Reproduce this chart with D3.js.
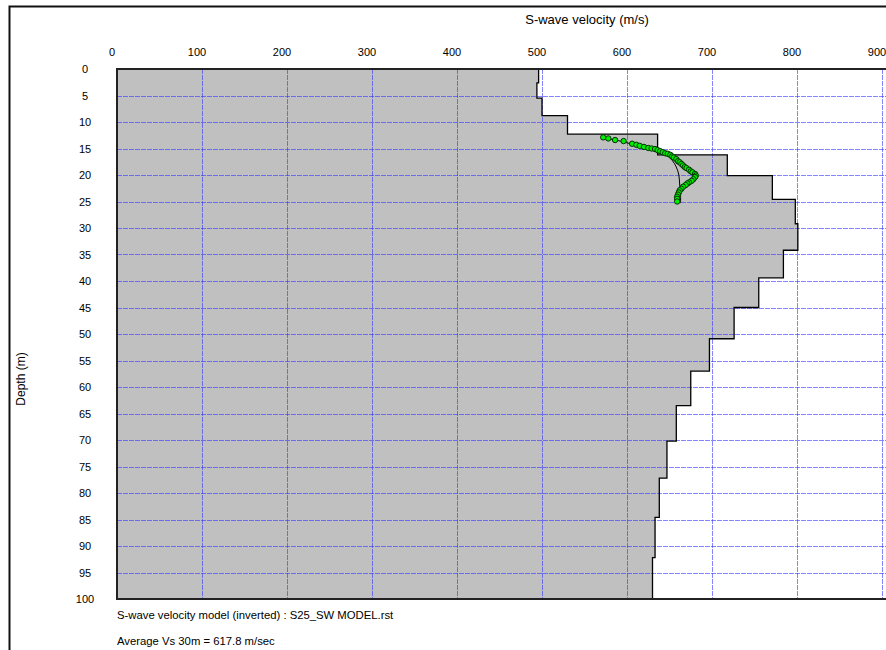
<!DOCTYPE html>
<html>
<head>
<meta charset="utf-8">
<script src="https://cdn.jsdelivr.net/npm/d3@7/dist/d3.min.js"></script>
<style>
  html, body { margin: 0; padding: 0; background: #fff; }
  svg { display: block; }
  text { font-family: "Liberation Sans", Arial, sans-serif; fill: #000; }
</style>
</head>
<body>
<svg id="chart" width="886" height="650"></svg>
<script>
// Layer boundaries (m) and inverted S-wave velocity of each layer (m/s)
const layerDepths = [0, 2.6, 5.5, 8.8, 12.3, 16.2, 20.1, 24.6, 29.2, 34.2, 39.4, 45.0, 50.9, 57.0, 63.5, 70.2, 77.2, 84.6, 92.2, 100];
const layerVs = [496, 494, 500, 530, 636, 718, 771, 798, 801, 784, 755, 726, 697, 675, 658, 647, 638, 633, 630];

// Measured dispersion points (phase velocity vs pseudo-depth)
const obsVelocity = [572, 578, 586, 596, 606, 611, 615, 620, 625, 629, 633, 636, 639, 642, 645, 648, 651, 653, 655, 658, 660, 662, 664, 666, 668, 670, 673, 675, 677, 680, 681, 680, 678, 676, 673, 671, 669, 666, 664, 662, 661, 660, 659, 659, 659];
const obsDepth = [12.9, 13.1, 13.4, 13.6, 14.1, 14.3, 14.5, 14.7, 14.9, 15.0, 15.1, 15.3, 15.5, 15.7, 15.9, 16.0, 16.2, 16.5, 16.7, 17.0, 17.4, 17.6, 17.9, 18.2, 18.5, 18.7, 19.0, 19.3, 19.5, 19.8, 20.1, 20.4, 20.8, 21.1, 21.4, 21.6, 21.9, 22.2, 22.6, 22.9, 23.3, 23.7, 24.1, 24.5, 25.0];

// Theoretical dispersion curve of the inverted model
const fitVelocity = [574, 592, 609, 625, 637, 646, 653, 658, 661, 662, 663, 663];
const fitDepth = [13.0, 13.6, 14.3, 14.9, 15.5, 16.2, 17.2, 18.5, 20.0, 21.9, 23.8, 25.3];

const velocityTicks = [0, 100, 200, 300, 400, 500, 600, 700, 800, 900, 1000];
const depthTicks = d3.range(0, 101, 5);

const svg = d3.select("#chart");

const x = d3.scaleLinear().domain([0, 1000]).range([117, 967]);
const y = d3.scaleLinear().domain([0, 100]).range([69, 599]);

// Outer chart frame
svg.append("rect")
  .attr("x", 9.5).attr("y", 6.5)
  .attr("width", 1200).attr("height", 1200)
  .attr("fill", "none").attr("stroke", "#111").attr("stroke-width", 2);

// Step profile of the model
const stepPts = [[0, 0]];
layerVs.forEach((v, i) => {
  stepPts.push([v, layerDepths[i]]);
  stepPts.push([v, layerDepths[i + 1]]);
});
stepPts.push([0, 100]);

const line = d3.line().x(d => x(d[0])).y(d => y(d[1]));

svg.append("path")
  .attr("d", line(stepPts) + "Z")
  .attr("fill", "#c0c0c0").attr("stroke", "none");

// Grid
const grid = svg.append("g")
  .attr("stroke", "#3333ff").attr("stroke-opacity", 0.6)
  .attr("stroke-width", 1).attr("stroke-dasharray", "5,1");
velocityTicks.filter(v => v > 0).forEach(v => {
  grid.append("line")
    .attr("x1", Math.round(x(v)) + 0.5).attr("x2", Math.round(x(v)) + 0.5)
    .attr("y1", y(0)).attr("y2", y(100));
});
depthTicks.filter(d => d > 0 && d < 100).forEach(d => {
  grid.append("line")
    .attr("x1", x(0)).attr("x2", x(1000))
    .attr("y1", Math.round(y(d)) + 0.5).attr("y2", Math.round(y(d)) + 0.5);
});

// Step outline
svg.append("path")
  .attr("d", line(stepPts.slice(1, -1)))
  .attr("fill", "none").attr("stroke", "#000").attr("stroke-width", 1.3);

// Plot frame
svg.append("path")
  .attr("d", `M${x(1000)},${y(0)}H${x(0)}V${y(100)}H${x(1000)}`)
  .attr("fill", "none").attr("stroke", "#222").attr("stroke-width", 2);

// Theoretical curve
svg.append("path")
  .datum(fitVelocity.map((v, i) => [v, fitDepth[i]]))
  .attr("d", d3.line().x(d => x(d[0])).y(d => y(d[1])).curve(d3.curveCatmullRom))
  .attr("fill", "none").attr("stroke", "#000").attr("stroke-width", 1);

// Observed points
svg.append("g").selectAll("circle")
  .data(obsVelocity.map((v, i) => [v, obsDepth[i]]))
  .join("circle")
  .attr("cx", d => x(d[0])).attr("cy", d => y(d[1]))
  .attr("r", 2.7)
  .attr("fill", "#00ee00").attr("stroke", "#043004").attr("stroke-width", 1);

// Top axis labels
svg.append("g").selectAll("text")
  .data(velocityTicks)
  .join("text")
  .attr("x", d => x(d) - 5).attr("y", 56)
  .attr("text-anchor", "middle")
  .attr("font-size", 11)
  .text(d => d);

svg.append("text")
  .attr("x", 587).attr("y", 24)
  .attr("text-anchor", "middle")
  .attr("font-size", 13)
  .text("S-wave velocity (m/s)");

// Left axis labels
svg.append("g").selectAll("text")
  .data(depthTicks)
  .join("text")
  .attr("x", 85).attr("y", d => y(d) + 4)
  .attr("text-anchor", "middle")
  .attr("font-size", 11)
  .text(d => d);

svg.append("text")
  .attr("transform", "translate(25,379) rotate(-90)")
  .attr("text-anchor", "middle")
  .attr("font-size", 12)
  .text("Depth (m)");

// Notes below the plot
svg.append("text")
  .attr("x", 117).attr("y", 619)
  .attr("font-size", 11.3)
  .text("S-wave velocity model (inverted) : S25_SW MODEL.rst");

svg.append("text")
  .attr("x", 117).attr("y", 645)
  .attr("font-size", 11.3)
  .text("Average Vs 30m = 617.8 m/sec");
</script>
</body>
</html>
